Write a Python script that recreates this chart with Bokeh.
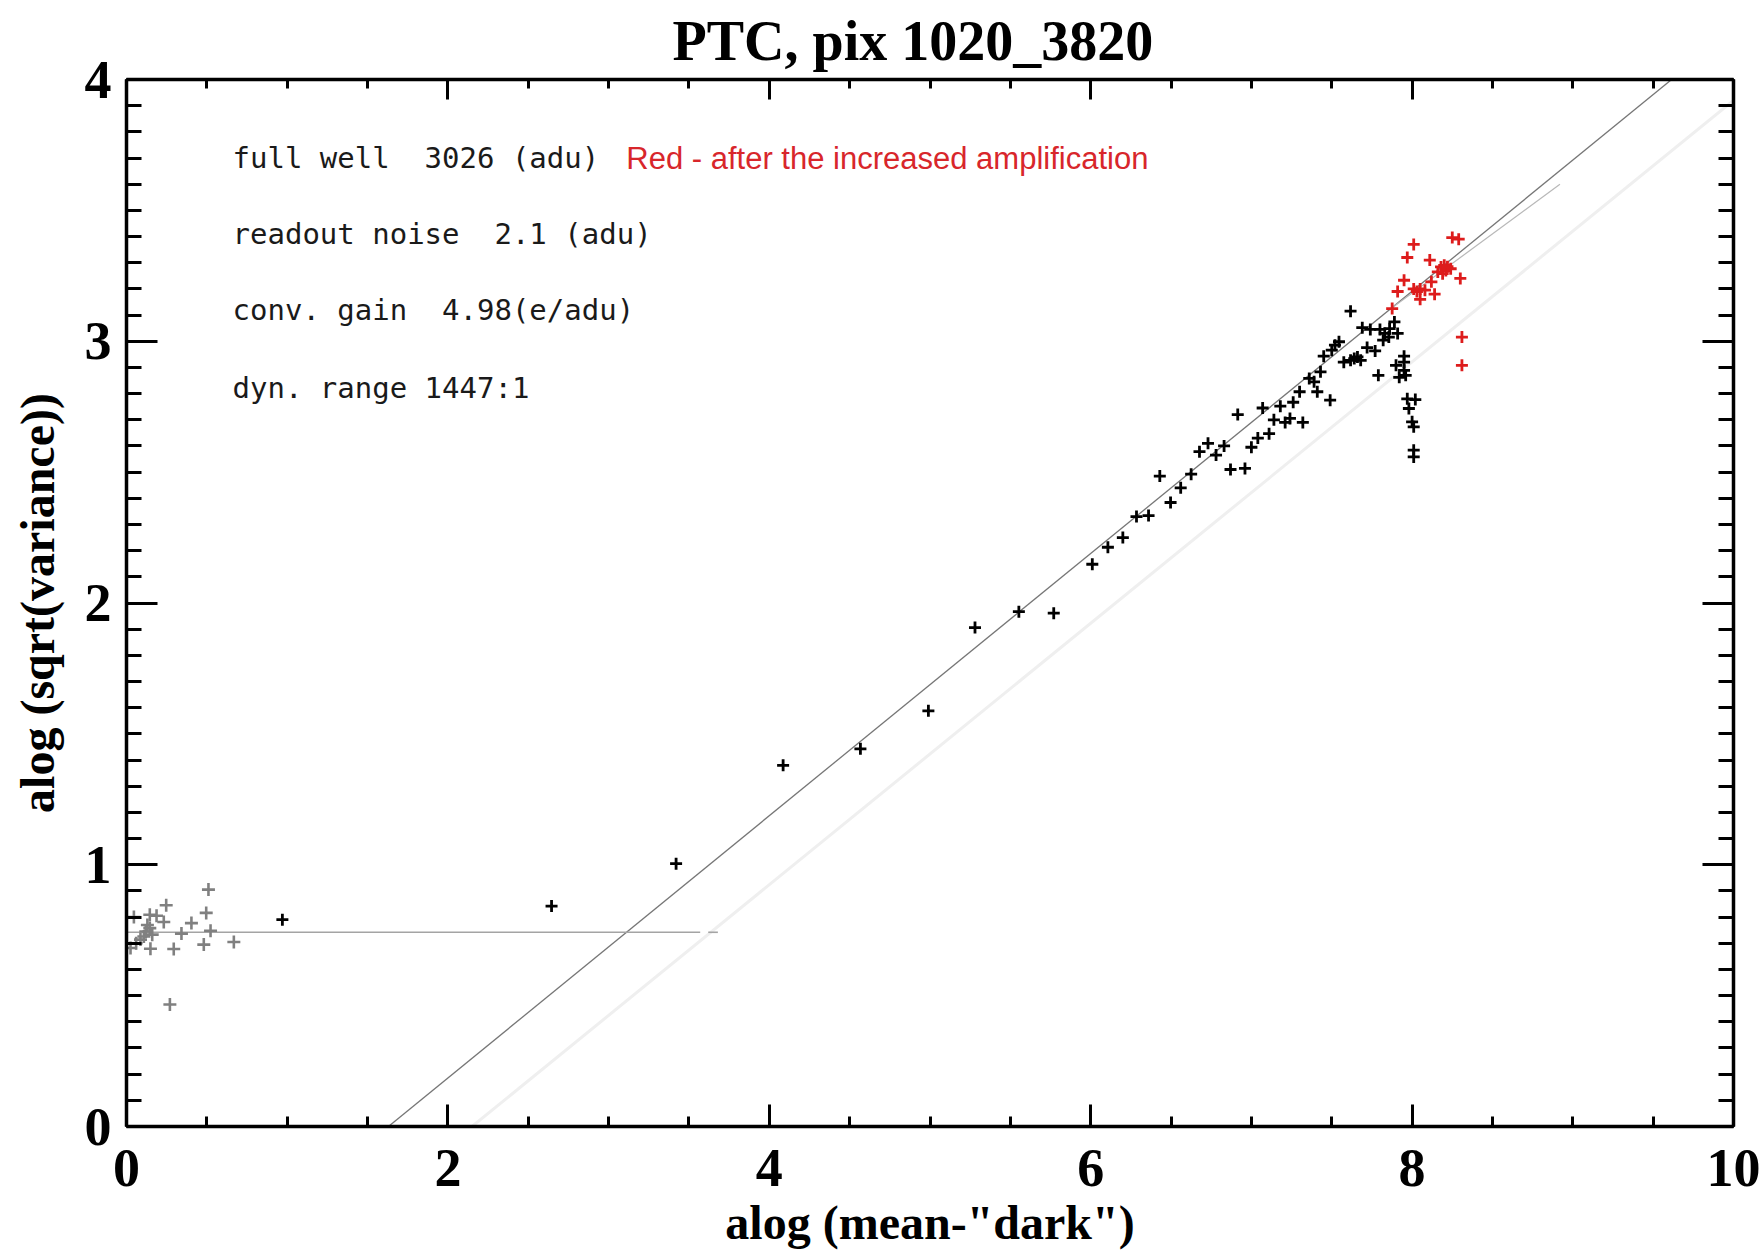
from bokeh.plotting import figure
from bokeh.models import Range1d, LinearAxis, SingleIntervalTicker, Label, CustomLabelingPolicy
from bokeh.embed import file_html
from bokeh.resources import INLINE

# ---------------- data ----------------
noise_x = [0.025, 0.046, 0.06, 0.087, 0.108, 0.12, 0.13, 0.145, 0.145, 0.149, 0.16,
           0.187, 0.232, 0.247, 0.27, 0.294, 0.342, 0.404, 0.481, 0.496, 0.51, 0.523, 0.668]
noise_y = [0.682, 0.80, 0.70, 0.714, 0.726, 0.745, 0.77, 0.809, 0.758, 0.679, 0.733,
           0.805, 0.781, 0.845, 0.466, 0.678, 0.737, 0.777, 0.695, 0.816, 0.905, 0.748, 0.705]

data_x = [0.97, 2.645, 3.42, 4.086, 4.567, 4.99, 5.28, 5.553, 5.77, 6.01, 6.107, 6.2,
          6.285, 6.36, 6.43, 6.497, 6.56, 6.625, 6.677, 6.73, 6.78, 6.83, 6.87, 6.96,
          6.915, 7.0, 7.04, 7.11, 7.07, 7.14, 7.18, 7.21, 7.24, 7.26, 7.30, 7.32, 7.39,
          7.41, 7.49, 7.36, 7.43, 7.45, 7.50, 7.52, 7.545, 7.575, 7.617, 7.64, 7.66,
          7.68, 7.72, 7.77, 7.617, 7.69, 7.74, 7.80, 7.83, 7.86, 7.855, 7.91, 7.89,
          7.82, 7.79, 7.95, 7.95, 7.90, 7.95, 7.96, 7.92, 7.97, 8.02, 7.98, 8.0, 8.01,
          8.01, 8.01]
data_y = [0.79, 0.842, 1.004, 1.38, 1.443, 1.588, 1.906, 1.967, 1.961, 2.148, 2.213, 2.25,
          2.33, 2.334, 2.485, 2.384, 2.44, 2.492, 2.578, 2.61, 2.565, 2.60, 2.51, 2.514,
          2.72, 2.595, 2.63, 2.647, 2.745, 2.70, 2.752, 2.69, 2.705, 2.767, 2.807, 2.69,
          2.845, 2.807, 2.775, 2.858, 2.883, 2.943, 2.966, 2.985, 2.998, 2.92, 2.927,
          2.934, 2.94, 2.927, 2.976, 2.963, 3.115, 3.052, 3.045, 3.045, 3.03, 3.048,
          3.016, 3.03, 3.074, 3.004, 2.87, 2.943, 2.92, 2.908, 2.889, 2.87, 2.862, 2.78,
          2.777, 2.743, 2.692, 2.673, 2.584, 2.558]

red_x = [7.876, 7.91, 7.95, 7.97, 8.01, 8.11, 8.25, 8.29, 8.18, 8.21, 8.19, 8.24, 8.16,
         8.30, 8.01, 8.05, 8.08, 8.03, 8.12, 8.14, 8.05, 8.31, 8.31, 8.20, 8.22]
red_y = [3.125, 3.19, 3.233, 3.32, 3.37, 3.31, 3.396, 3.39, 3.284, 3.27, 3.258, 3.277,
         3.265, 3.24, 3.20, 3.20, 3.195, 3.19, 3.227, 3.18, 3.16, 3.016, 2.908, 3.29, 3.285]

fit_x = [1.63, 9.615]
fit_y = [0.0, 4.0]
faint_x = [2.15, 10.0]
faint_y = [0.0, 3.92]
redfit_x = [7.88, 8.92]
redfit_y = [3.13, 3.60]
noise_level = 0.742
noise_line_x = [0.0, 3.57]
noise_dash_x = [3.62, 3.68]

NB = "\u00a0"
info_lines = ["full well " + NB + "3026 (adu)", "readout noise " + NB + "2.1 (adu)",
              "conv. gain " + NB + "4.98(e/adu)", "dyn. range 1447:1"]
info_y = [3.70, 3.41, 3.12, 2.82]
info_x = 0.66
red_note = "Red - after the increased amplification"
red_note_x = 3.11

title = "PTC, pix 1020_3820"
xlabel = 'alog (mean-"dark")'
ylabel = "alog (sqrt(variance))"

# ---------------- figure ----------------
p = figure(width=1764, height=1251, x_range=Range1d(0, 10), y_range=Range1d(0, 4),
           output_backend="svg", toolbar_location=None,
           min_border_left=126, min_border_right=31, min_border_top=79, min_border_bottom=124)
p.background_fill_color = "white"
p.border_fill_color = "white"
p.outline_line_color = None
p.xgrid.visible = False
p.ygrid.visible = False

p.title.text = title
p.title.align = "left"
p.title.offset = 546
p.title.text_font = "Liberation Serif"
p.title.text_font_style = "bold"
p.title.text_font_size = "56px"
p.title.text_color = "black"
p.title.standoff = 8

serif = "Liberation Serif"
no_labels = CustomLabelingPolicy(code="return new Set()")

def style_axis(ax, tick_in, minor_in, labels=True):
    ax.axis_line_width = 3.5
    ax.axis_line_color = "black"
    ax.major_tick_in = tick_in
    ax.major_tick_out = 0
    ax.minor_tick_in = minor_in
    ax.minor_tick_out = 0
    ax.major_tick_line_width = 3
    ax.minor_tick_line_width = 3
    ax.major_tick_line_color = "black"
    ax.minor_tick_line_color = "black"
    if labels:
        ax.major_label_text_font = serif
        ax.major_label_text_font_style = "bold"
        ax.major_label_text_font_size = "54px"
        ax.major_label_text_color = "black"
        ax.axis_label_text_font = serif
        ax.axis_label_text_font_style = "bold"
        ax.axis_label_text_font_size = "48px"
        ax.axis_label_text_color = "black"
    else:
        ax.major_label_policy = no_labels
        ax.major_label_text_font_size = "1px"
        ax.major_label_standoff = 0

xt = SingleIntervalTicker(interval=2, num_minor_ticks=4)
yt = SingleIntervalTicker(interval=1, num_minor_ticks=10)

xb = p.xaxis[0]
xb.ticker = xt
xb.axis_label = xlabel
style_axis(xb, 22, 10)
xb.major_label_standoff = 23
xb.axis_label_standoff = 7

yl = p.yaxis[0]
yl.ticker = yt
yl.axis_label = ylabel
style_axis(yl, 31, 15)
yl.major_label_standoff = 15
yl.axis_label_standoff = 18
yl.major_label_orientation = "horizontal"

xa = LinearAxis(ticker=SingleIntervalTicker(interval=2, num_minor_ticks=4))
style_axis(xa, 20, 9, labels=False)
p.add_layout(xa, "above")
yr = LinearAxis(ticker=SingleIntervalTicker(interval=1, num_minor_ticks=10))
style_axis(yr, 31, 15, labels=False)
p.add_layout(yr, "right")

# ---------------- lines ----------------
p.line(faint_x, faint_y, line_color="#efefef", line_width=3)
p.line(fit_x, fit_y, line_color="#767676", line_width=1.3)
p.line(redfit_x, redfit_y, line_color="#b8b8b8", line_width=1.2)
p.line(noise_line_x, [noise_level, noise_level], line_color="#a4a4a4", line_width=1.6)
p.line(noise_dash_x, [noise_level, noise_level], line_color="#a4a4a4", line_width=1.6)

# ---------------- points ----------------
p.scatter(noise_x, noise_y, marker="cross", size=13, line_width=2.6, line_color="#808080")
p.scatter(data_x, data_y, marker="cross", size=12, line_width=2.8, line_color="black")
p.scatter(red_x, red_y, marker="cross", size=12, line_width=2.8, line_color="#dd1c1c")

# ---------------- annotations ----------------
for t, yy in zip(info_lines, info_y):
    p.add_layout(Label(x=info_x, y=yy, text=t, text_font="DejaVu Sans Mono",
                       text_font_size="29px", text_color="#1a1a1a", text_baseline="middle"))
p.add_layout(Label(x=red_note_x, y=info_y[0], text=red_note, text_font="Liberation Sans",
                   text_font_size="31px", text_color="#d8262b", text_baseline="middle"))

open("out.html", "w").write(file_html(p, INLINE))
